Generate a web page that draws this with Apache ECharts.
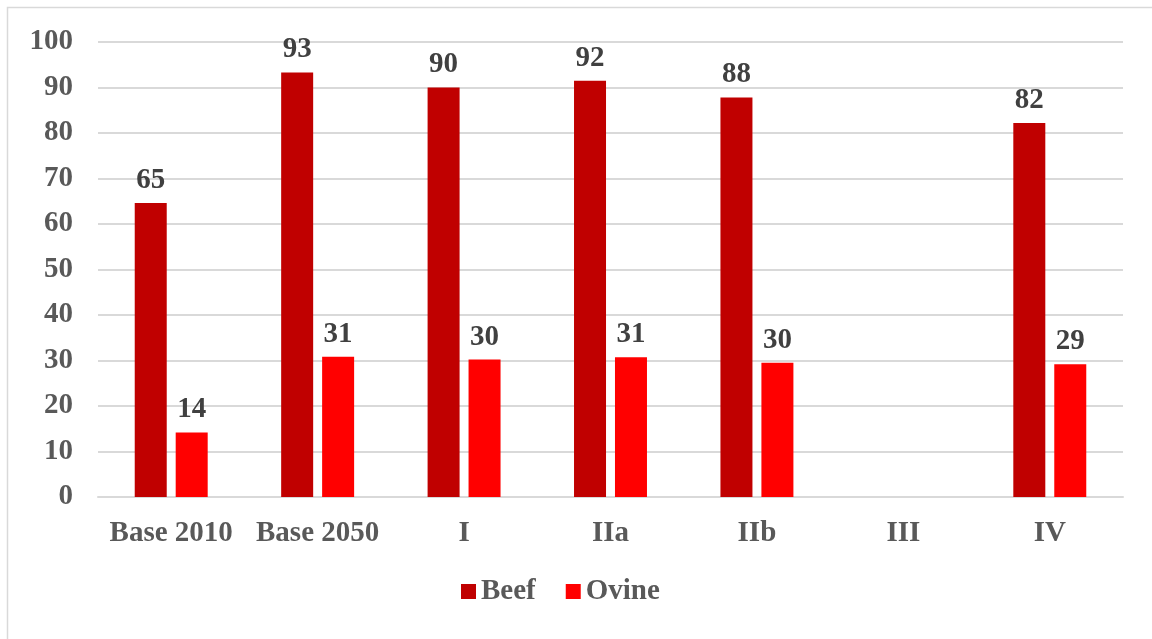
<!DOCTYPE html>
<html>
<head>
<meta charset="utf-8">
<script src="https://cdn.jsdelivr.net/npm/echarts@6/dist/echarts.min.js"></script>
<style>
html,body{margin:0;padding:0;background:#fff;}
#chart{width:1152px;height:639px;}
</style>
</head>
<body>
<div id="chart"></div>
<script>
const categories = ['Base 2010', 'Base 2050', 'I', 'IIa', 'IIb', 'III', 'IV'];
const beef = [64.6, 93.3, 90.0, 91.5, 87.8, null, 82.2];
const ovine = [14.2, 30.8, 30.2, 30.7, 29.5, null, 29.2];
const yTicks = [0, 10, 20, 30, 40, 50, 60, 70, 80, 90, 100];

const font = '"Liberation Serif", "Times New Roman", serif';
const FS = 29;
const chart = echarts.init(document.getElementById('chart'));
const labelCfg = {
  show: true,
  position: 'top',
  distance: 8,
  fontFamily: font,
  fontWeight: 'bold',
  fontSize: FS,
  color: '#404040',
  formatter: p => p.value == null ? '' : Math.round(p.value)
};
chart.setOption({
  animation: false,
  backgroundColor: '#fff',
  graphic: [{
    type: 'rect',
    shape: {x: 7.5, y: 7.5, width: 1300, height: 800},
    style: {fill: 'none', stroke: '#d9d9d9', lineWidth: 1.5},
    silent: true
  }],
  grid: {left: 98, right: 29, top: 42, bottom: 142},
  legend: {
    left: 456, top: 572,
    itemWidth: 15, itemHeight: 15, itemGap: 30,
    icon: 'rect',
    textStyle: {fontFamily: font, fontWeight: 'bold', fontSize: FS, color: '#595959', padding: [0, 0, 0, 0]},
    data: ['Beef', 'Ovine']
  },
  xAxis: {
    type: 'category',
    data: categories,
    axisLine: {lineStyle: {color: '#d9d9d9', width: 2}},
    axisTick: {show: false},
    axisLabel: {fontFamily: font, fontWeight: 'bold', fontSize: FS, color: '#595959', margin: 22, interval: 0}
  },
  yAxis: {
    type: 'value',
    min: yTicks[0], max: yTicks[yTicks.length - 1], interval: 10,
    axisLine: {show: false},
    axisTick: {show: false},
    splitLine: {lineStyle: {color: '#d9d9d9', width: 2}},
    axisLabel: {fontFamily: font, fontWeight: 'bold', fontSize: FS, color: '#595959', margin: 25}
  },
  series: [
    {name: 'Beef', type: 'bar', data: beef, barWidth: 32, barGap: '28%',
     itemStyle: {color: '#C00000'}, label: labelCfg},
    {name: 'Ovine', type: 'bar', data: ovine, barWidth: 32,
     itemStyle: {color: '#FF0000'}, label: labelCfg}
  ]
});
</script>
</body>
</html>
